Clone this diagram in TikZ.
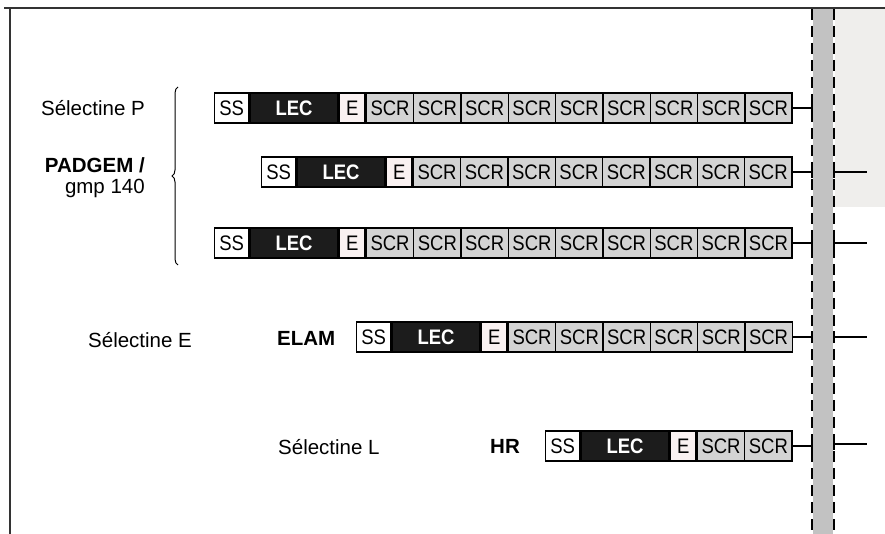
\documentclass[tikz,border=0pt]{standalone}
\usepackage{fontspec}
\setmainfont{Liberation Sans}
\newfontfamily\cellfont[FakeStretch=0.88]{Liberation Sans}
\usetikzlibrary{decorations.pathreplacing}
\definecolor{lecfill}{HTML}{1C1C1C}
\definecolor{scrfill}{HTML}{D3D3D3}
\definecolor{efill}{HTML}{F9F1F1}
\definecolor{membfill}{HTML}{C2C2C2}
\definecolor{outside}{HTML}{EFEEEC}
\definecolor{framec}{HTML}{333333}
\tikzset{
 cell/.style={draw=black, line width=1.4pt, minimum height=30pt, inner sep=0pt, anchor=west, font=\cellfont\fontsize{21}{21}\selectfont, text=black},
 ssbox/.style={cell, fill=white, minimum width=34pt},
 lecbox/.style={cell, fill=lecfill, text=white, minimum width=88pt, font=\cellfont\fontsize{21}{21}\selectfont\bfseries},
 ebox/.style={cell, fill=efill, minimum width=25.5pt},
 scrbox/.style={cell, fill=scrfill, minimum width=47.3pt},
 lbl/.style={font=\fontsize{20.5}{22}\selectfont, inner sep=0pt, text=black},
 blbl/.style={lbl, font=\fontsize{20.5}{22}\selectfont\bfseries},
 link/.style={line width=1.6pt, black},
 membline/.style={line width=2pt, black, dash pattern=on 11pt off 6pt},
}
\newcommand{\protrow}[4]{%
 \node[ssbox] (#1ss) at (#2,#3) {SS};
 \node[lecbox] (#1lec) at (#1ss.east) {LEC};
 \node[ebox] (#1e) at (#1lec.east) {E};
 \foreach \i in {1,...,#4} {
  \node[scrbox] (#1scr\i) at ([xshift={(\i-1)*47.3pt}]#1e.east) {SCR};
 }
}
\begin{document}
\begin{tikzpicture}[x=1pt,y=-1pt]
\useasboundingbox (0,0) rectangle (885,534);
\fill[white] (0,0) rectangle (885,534);
% outside region and membrane
\fill[outside] (835,9) rectangle (885,207);
\fill[membfill] (813,9) rectangle (833,534);
\draw[membline] (812,9) -- (812,534);
\draw[membline] (834,9) -- (834,534);
% frame
\draw[framec, line width=1.5pt] (4,8) -- (885,8);
\draw[framec, line width=1.5pt] (10,8) -- (10,534);
% labels
\node[lbl, anchor=east] (selP) at (145,108) {Sélectine P};
\node[blbl, anchor=east] (padgem) at (145,165) {PADGEM /};
\node[lbl, anchor=east] (gmp) at (145,188) {gmp 140};
\draw[line width=1pt, decorate, decoration={brace, amplitude=6pt}] (178,265) -- (178,87);
\node[lbl, anchor=west] (selE) at (88,340) {Sélectine E};
\node[blbl, anchor=west] (elam) at (277,338) {ELAM};
\node[lbl, anchor=west] (selL) at (278,447) {Sélectine L};
\node[blbl, anchor=west] (hr) at (490,446) {HR};
% rows
\protrow{r1}{214}{108}{9}
\protrow{r2}{261}{172}{8}
\protrow{r3}{214}{243}{9}
\protrow{r4}{356}{337}{6}
\protrow{r5}{545}{446}{2}
% membrane anchors
\coordinate (r1m) at (812,108);
\coordinate (r2m) at (812,172);
\coordinate (r3m) at (812,243);
\coordinate (r4m) at (812,337);
\coordinate (r5m) at (812,446);
\coordinate (r2in) at (834,172);
\coordinate (r3in) at (834,243);
\coordinate (r4in) at (834,337);
\coordinate (r5in) at (834,444);
\coordinate (r2out) at (867,172);
\coordinate (r3out) at (867,243);
\coordinate (r4out) at (867,337);
\coordinate (r5out) at (867,444);
% connectors
\draw[link] (r1scr9.east) -- (r1m);
\draw[link] (r2scr8.east) -- (r2m);
\draw[link] (r3scr9.east) -- (r3m);
\draw[link] (r4scr6.east) -- (r4m);
\draw[link] (r5scr2.east) -- (r5m);
\foreach \r in {r1m,r2m,r3m,r4m,r5m,r2in,r3in,r4in,r5in} {
 \draw[link] ([yshift=-6pt]\r) -- ([yshift=6pt]\r);
}
\draw[link] (r2in) -- (r2out);
\draw[link] (r3in) -- (r3out);
\draw[link] (r4in) -- (r4out);
\draw[link] (r5in) -- (r5out);
\end{tikzpicture}
\end{document}
